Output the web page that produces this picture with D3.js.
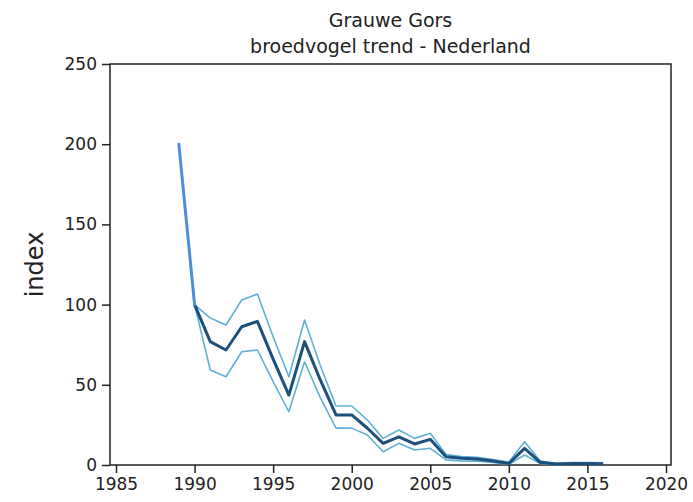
<!DOCTYPE html>
<html>
<head>
<meta charset="utf-8">
<script src="https://cdn.jsdelivr.net/npm/d3@7"></script>
<style>
  body { margin: 0; background: #fff; }
  svg text { font-family: "DejaVu Sans", sans-serif; fill: #222; }
</style>
</head>
<body>
<svg id="chart" width="693" height="502"></svg>
<script>
// trend index, 1990 = 100
var years = [1990, 1991, 1992, 1993, 1994, 1995, 1996, 1997, 1998, 1999,
  2000, 2001, 2002, 2003, 2004, 2005, 2006, 2007, 2008, 2009,
  2010, 2011, 2012, 2013, 2014, 2015, 2016];
var trend = [100, 76.9, 71.7, 86.2, 89.5, 66, 43.6, 76.9, 53, 31.2,
  31.2, 22.9, 13.5, 17.6, 13.1, 16, 5.2, 4.2, 3.8, 2.5,
  1, 10.4, 1.7, 0.6, 1, 1, 0.8];
var upper = [100, 91.6, 87.3, 102.9, 106.6, 80, 55, 90.4, 62, 36.8,
  36.8, 28, 16.6, 21.8, 16.6, 19.8, 6.5, 5.2, 4.8, 3.4,
  1.8, 14.5, 2.4, 1.1, 1.6, 1.6, 1.3];
var lower = [100, 59.2, 55, 70.6, 71.7, 52, 33.2, 64.4, 42, 23,
  23, 18.7, 8.3, 13.5, 9.4, 10.4, 3.2, 2.6, 2.4, 1.6,
  0.4, 6.2, 0.9, 0.2, 0.5, 0.5, 0.3];
// first census year, before the index base year
var leadYears = [1989, 1990];
var leadValues = [200, 100];

var xTicks = [1985, 1990, 1995, 2000, 2005, 2010, 2015, 2020];
var yTicks = [0, 50, 100, 150, 200, 250];

var title = ['Grauwe Gors', 'broedvogel trend - Nederland'];
var yLabel = 'index';

var svg = d3.select('#chart');

// plot box (window.top is reserved, so no plain "top")
var box = {left: 110, right: 671, top: 64, bottom: 465};

var x = d3.scaleLinear()
  .domain([1985, 2020])
  .range([116, 666]);

var y = d3.scaleLinear()
  .domain([0, 250])
  .range([box.bottom, box.top]);

// frame
svg.append('rect')
  .attr('x', box.left)
  .attr('y', box.top)
  .attr('width', box.right - box.left)
  .attr('height', box.bottom - box.top)
  .attr('fill', 'none')
  .attr('stroke', '#222')
  .attr('stroke-width', 1.5);

var yAxis = svg.append('g')
  .attr('transform', 'translate(' + box.left + ',0)')
  .call(d3.axisLeft(y).tickValues(yTicks).tickSize(8).tickPadding(5));

var xAxis = svg.append('g')
  .attr('transform', 'translate(0,' + box.bottom + ')')
  .call(d3.axisBottom(x).tickValues(xTicks).tickFormat(d3.format('d')).tickSize(8).tickPadding(5));

[yAxis, xAxis].forEach(function(ax) {
  ax.select('.domain').remove();
  ax.selectAll('.tick line').attr('stroke', '#222').attr('stroke-width', 1.5);
  ax.selectAll('.tick text')
    .style('font-family', '"DejaVu Sans", sans-serif')
    .style('font-size', '17px')
    .attr('fill', '#222');
});

var line = d3.line()
  .x(function(d) { return x(d.year); })
  .y(function(d) { return y(d.value); });

function series(vals) {
  return years.map(function(yr, i) { return {year: yr, value: vals[i]}; });
}

var lines = svg.append('g').attr('fill', 'none').attr('stroke-linejoin', 'round');

lines.append('path')
  .datum(series(upper))
  .attr('d', line)
  .attr('stroke', '#5fb0d4')
  .attr('stroke-width', 1.6);

lines.append('path')
  .datum(series(lower))
  .attr('d', line)
  .attr('stroke', '#5fb0d4')
  .attr('stroke-width', 1.6);

lines.append('path')
  .datum(series(trend))
  .attr('d', line)
  .attr('stroke', '#1c4f7c')
  .attr('stroke-width', 3);

lines.append('path')
  .datum(leadYears.map(function(yr, i) { return {year: yr, value: leadValues[i]}; }))
  .attr('d', line)
  .attr('stroke', '#4a90d8')
  .attr('stroke-width', 3)
  .attr('stroke-linecap', 'round');

// titles
svg.append('g')
  .selectAll('text')
  .data(title)
  .join('text')
  .attr('x', (box.left + box.right) / 2)
  .attr('y', function(d, i) { return 27 + i * 26; })
  .attr('text-anchor', 'middle')
  .style('font-size', '19px')
  .text(function(d) { return d; });

svg.append('text')
  .attr('transform', 'translate(43,' + ((box.top + box.bottom) / 2) + ') rotate(-90)')
  .attr('text-anchor', 'middle')
  .style('font-size', '24px')
  .text(yLabel);
</script>
</body>
</html>
